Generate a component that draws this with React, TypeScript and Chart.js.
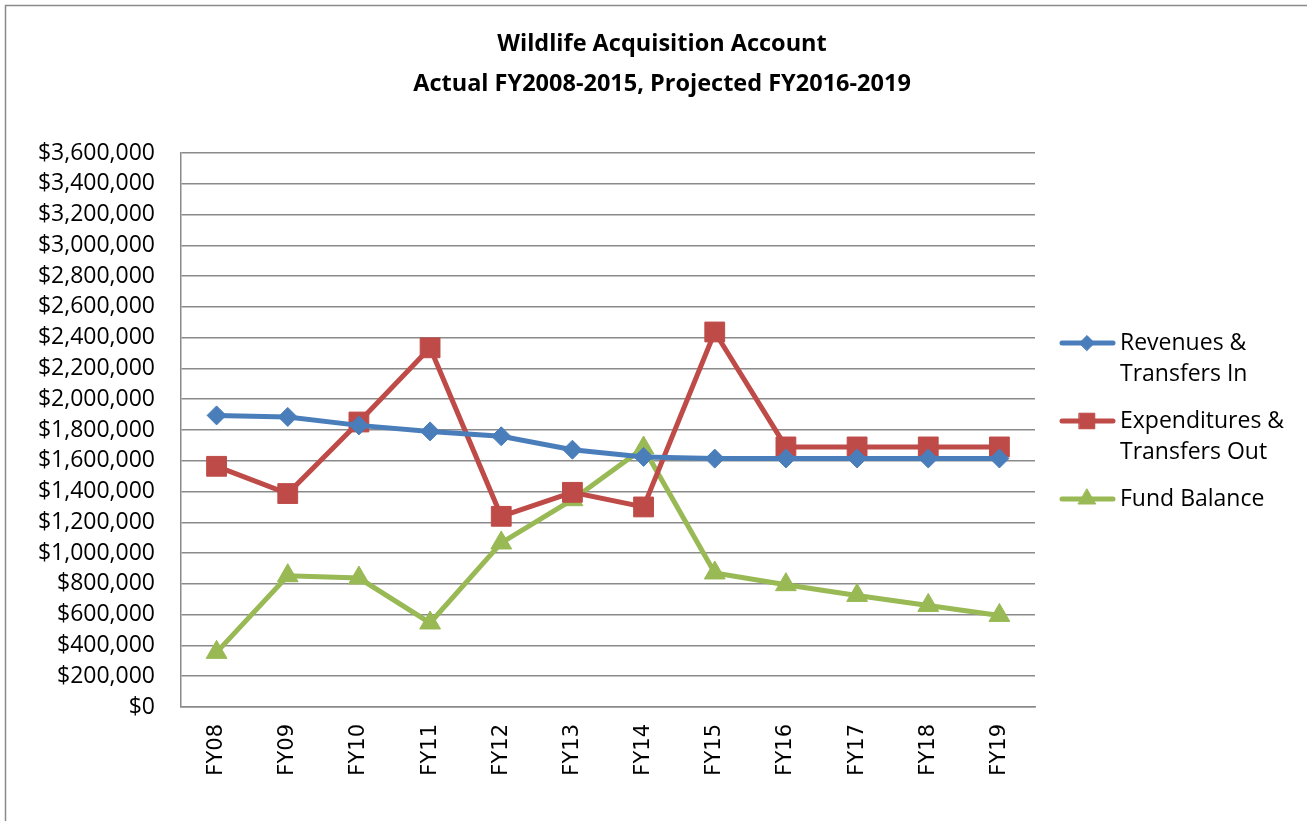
import React, { useEffect, useRef } from 'react';
import { Chart, registerables } from 'chart.js';
import { drawPoint } from 'chart.js/helpers';

Chart.register(...registerables);

const categories = ['FY08', 'FY09', 'FY10', 'FY11', 'FY12', 'FY13', 'FY14', 'FY15', 'FY16', 'FY17', 'FY18', 'FY19'];
const revenues = [1895000, 1885000, 1830000, 1791000, 1759000, 1672000, 1625000, 1614000, 1615000, 1615000, 1615000, 1615000];
const expenditures = [1564000, 1387000, 1852000, 2334000, 1239000, 1395000, 1300000, 2437000, 1690000, 1690000, 1690000, 1690000];
const fundBalance = [355000, 853000, 838000, 546000, 1066000, 1347000, 1683000, 871000, 795000, 725000, 660000, 595000];
const titleLines = ['Wildlife Acquisition Account', 'Actual FY2008-2015, Projected FY2016-2019'];
const legendLines = [['Revenues &', 'Transfers In'], ['Expenditures &', 'Transfers Out'], ['Fund Balance']];
const seriesColors = ['#4a7ebb', '#be4b48', '#98b954'];
const seriesShapes = ['rectRot', 'rect', 'triangle'];
const yMax = 3600000;
const yStep = 200000;

const TEXT_FONT = "'Open Sans', 'DejaVu Sans', sans-serif";

const decorPlugin = {
  id: 'decor',
  beforeDraw(chart: any) {
    const ctx = chart.ctx;
    ctx.save();
    ctx.fillStyle = '#ffffff';
    ctx.fillRect(0, 0, chart.width, chart.height);
    ctx.strokeStyle = '#8a8a8a';
    ctx.lineWidth = 1.5;
    ctx.beginPath();
    ctx.moveTo(5.5, chart.height + 2);
    ctx.lineTo(5.5, 5.5);
    ctx.lineTo(chart.width + 2, 5.5);
    ctx.stroke();
    ctx.restore();
  },
  afterDraw(chart: any) {
    const ctx = chart.ctx;
    ctx.save();
    // title
    ctx.fillStyle = '#000000';
    ctx.font = `bold 23.5px ${TEXT_FONT}`;
    ctx.textAlign = 'center';
    ctx.textBaseline = 'middle';
    titleLines.forEach((t, i) => ctx.fillText(t, 662, 44 + i * 40));
    // legend
    ctx.font = `23px ${TEXT_FONT}`;
    ctx.textAlign = 'left';
    let y = 343;
    const lineH = 31.5;
    const legendRadii = [7.5, 11, 10];
    chart.data.datasets.forEach((ds: any, i: number) => {
      ctx.strokeStyle = ds.borderColor;
      ctx.lineWidth = 5;
      ctx.lineCap = 'round';
      ctx.beginPath();
      ctx.moveTo(1062, y);
      ctx.lineTo(1113, y);
      ctx.stroke();
      ctx.fillStyle = ds.pointBackgroundColor;
      ctx.strokeStyle = ds.pointBorderColor;
      ctx.lineWidth = 1;
      drawPoint(ctx, { pointStyle: ds.pointStyle, radius: legendRadii[i], rotation: 0, borderWidth: 1 }, 1087, y);
      ctx.fillStyle = '#000000';
      legendLines[i].forEach((t, j) => ctx.fillText(t, 1120, y + j * lineH));
      y += legendLines[i].length * lineH + 15;
    });
    ctx.restore();
  },
};

export default function App() {
  const ref = useRef<HTMLCanvasElement>(null);
  useEffect(() => {
    if (!ref.current) return;
    const series = [revenues, expenditures, fundBalance];
    const radii = [9.5, 14, 12];
    const chart = new Chart(ref.current, {
      type: 'line',
      data: {
        labels: categories,
        datasets: series.map((d, i) => ({
          label: legendLines[i].join(' '),
          data: d,
          borderColor: seriesColors[i],
          backgroundColor: seriesColors[i],
          pointBackgroundColor: seriesColors[i],
          pointBorderColor: seriesColors[i],
          pointStyle: seriesShapes[i],
          pointRadius: radii[i],
          pointBorderWidth: 1,
          borderWidth: 5,
          tension: 0,
          fill: false,
        })),
      },
      options: {
        responsive: false,
        animation: false,
        devicePixelRatio: 1,
        layout: { padding: { top: 153, right: 272, bottom: 0, left: 0 } },
        plugins: {
          legend: { display: false },
          title: { display: false },
          tooltip: { enabled: false },
        },
        scales: {
          x: {
            offset: true,
            grid: { display: false, drawTicks: false },
            border: { display: true, color: '#8a8a8a', width: 1.5 },
            ticks: {
              minRotation: 90,
              maxRotation: 90,
              padding: 17,
              color: '#000000',
              font: { family: "'DejaVu Sans', sans-serif", size: 21 },
            },
            afterFit: (s: any) => { s.height = 114; },
          },
          y: {
            min: 0,
            max: yMax,
            grid: { color: '#8a8a8a', lineWidth: 1.5, drawTicks: false },
            border: { display: true, color: '#8a8a8a', width: 1.5 },
            ticks: {
              stepSize: yStep,
              padding: 26,
              color: '#000000',
              font: { family: TEXT_FONT, size: 23 },
              callback: (v: any) => '$' + Number(v).toLocaleString('en-US'),
            },
            afterFit: (s: any) => { s.width = 181; },
          },
        },
      },
      plugins: [decorPlugin],
    });
    return () => chart.destroy();
  }, []);
  return (
    <div style={{ position: 'fixed', left: 0, top: 0, width: 1307, height: 821, background: '#fff', overflow: 'hidden' }}>
      <canvas ref={ref} width={1307} height={821} style={{ display: 'block' }} />
    </div>
  );
}
